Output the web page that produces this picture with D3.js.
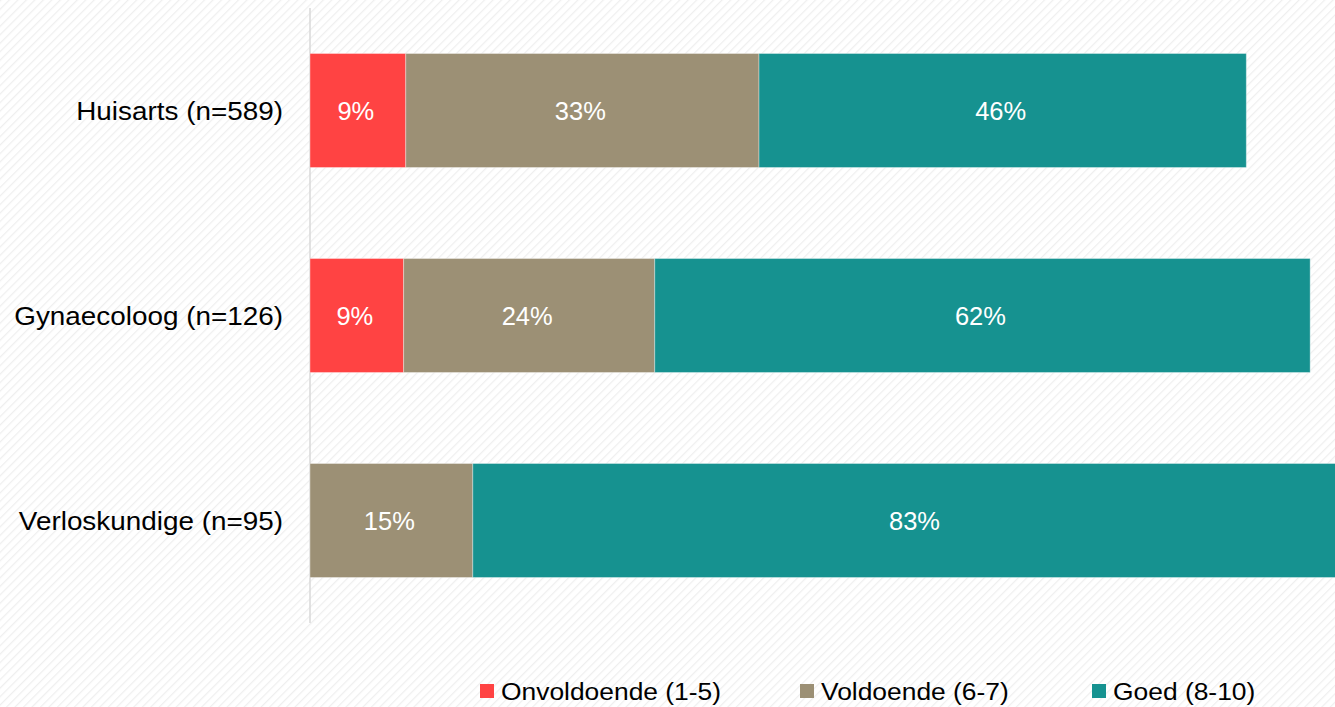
<!DOCTYPE html>
<html>
<head>
<meta charset="utf-8">
<script src="https://cdn.jsdelivr.net/npm/d3@7"></script>
<style>
  body { margin: 0; background: #fff; }
  svg { display: block; font-family: "Liberation Sans", Arial, sans-serif; }
</style>
</head>
<body>
<div id="chart"></div>
<script>
var width = 1335;
var height = 707;

// data (percentages)
var categories = ["Huisarts (n=589)", "Gynaecoloog (n=126)", "Verloskundige (n=95)"];
var series = ["Onvoldoende (1-5)", "Voldoende (6-7)", "Goed (8-10)"];
var onvoldoende = [9.0, 8.8, 0];
var voldoende = [33.2, 23.6, 15.3];
var goed = [45.8, 61.6, 83.4];
var colors = ["#ff4343", "#9c9075", "#169290"];

var rows = categories.map(function (c, i) {
    return { cat: c, "Onvoldoende (1-5)": onvoldoende[i], "Voldoende (6-7)": voldoende[i], "Goed (8-10)": goed[i] };
});
var stacked = d3.stack().keys(series)(rows);

var x = d3.scaleLinear().domain([0, 100]).range([310, 1374]);
var y = d3.scaleBand().domain(categories).range([8, 623]).paddingInner(0.444).paddingOuter(0.222);
var color = d3.scaleOrdinal().domain(series).range(colors);

var svg = d3.select("#chart")
    .append("svg")
    .attr("width", width)
    .attr("height", height);

// hatched background
var pat = svg.append("defs").append("pattern")
    .attr("id", "hatch")
    .attr("patternUnits", "userSpaceOnUse")
    .attr("width", 6)
    .attr("height", 6)
    .attr("patternTransform", "rotate(45)");
pat.append("rect").attr("width", 6).attr("height", 6).attr("fill", "#ffffff");
pat.append("line")
    .attr("x1", 0).attr("y1", 0).attr("x2", 0).attr("y2", 6)
    .attr("stroke", "#efefef")
    .attr("stroke-width", 2.5);

svg.append("rect")
    .attr("width", width)
    .attr("height", height)
    .attr("fill", "url(#hatch)");

// axis line
svg.append("line")
    .attr("x1", x(0)).attr("x2", x(0))
    .attr("y1", y.range()[0]).attr("y2", y.range()[1])
    .attr("stroke", "#d9d9d9")
    .attr("stroke-width", 1.5);

// bars
var layer = svg.selectAll(".layer")
    .data(stacked)
    .enter()
    .append("g")
    .attr("class", "layer")
    .attr("fill", function (d) { return color(d.key); });

layer.selectAll("rect")
    .data(function (d) { return d.filter(function (p) { return p[1] - p[0] > 0; }); })
    .enter()
    .append("rect")
    .attr("x", function (d) { return x(d[0]); })
    .attr("y", function (d) { return y(d.data.cat); })
    .attr("width", function (d) { return x(d[1]) - x(d[0]); })
    .attr("height", y.bandwidth())
    .attr("stroke", "rgba(255,255,255,0.35)")
    .attr("stroke-width", 1);

layer.selectAll("text")
    .data(function (d) { return d.filter(function (p) { return p[1] - p[0] > 0; }); })
    .enter()
    .append("text")
    .attr("x", function (d) { return (x(d[0]) + x(d[1])) / 2 - 2; })
    .attr("y", function (d) { return y(d.data.cat) + y.bandwidth() / 2; })
    .attr("dy", "0.36em")
    .attr("text-anchor", "middle")
    .attr("fill", "#ffffff")
    .attr("font-size", 25.5)
    .text(function (d) { return d3.format(".0f")(d[1] - d[0]) + "%"; });

// category labels (slightly wide type, as in the original)
svg.selectAll(".cat")
    .data(categories)
    .enter()
    .append("text")
    .attr("class", "cat")
    .attr("transform", function (d) {
        return "translate(283," + (y(d) + y.bandwidth() / 2) + ") scale(1.115,1)";
    })
    .attr("dy", "0.36em")
    .attr("text-anchor", "end")
    .attr("fill", "#000")
    .attr("font-size", 25)
    .text(function (d) { return d; });

// legend
var legendX = [480, 800, 1092];
var leg = svg.selectAll(".leg")
    .data(series)
    .enter()
    .append("g")
    .attr("class", "leg")
    .attr("transform", function (d, i) { return "translate(" + legendX[i] + ",691)"; });

leg.append("rect")
    .attr("x", 0).attr("y", -7)
    .attr("width", 14).attr("height", 14)
    .attr("fill", function (d) { return color(d); });

leg.append("text")
    .attr("transform", "translate(21,0) scale(1.1,1)")
    .attr("dy", "0.36em")
    .attr("font-size", 24)
    .attr("fill", "#000")
    .text(function (d) { return d; });
</script>
</body>
</html>
